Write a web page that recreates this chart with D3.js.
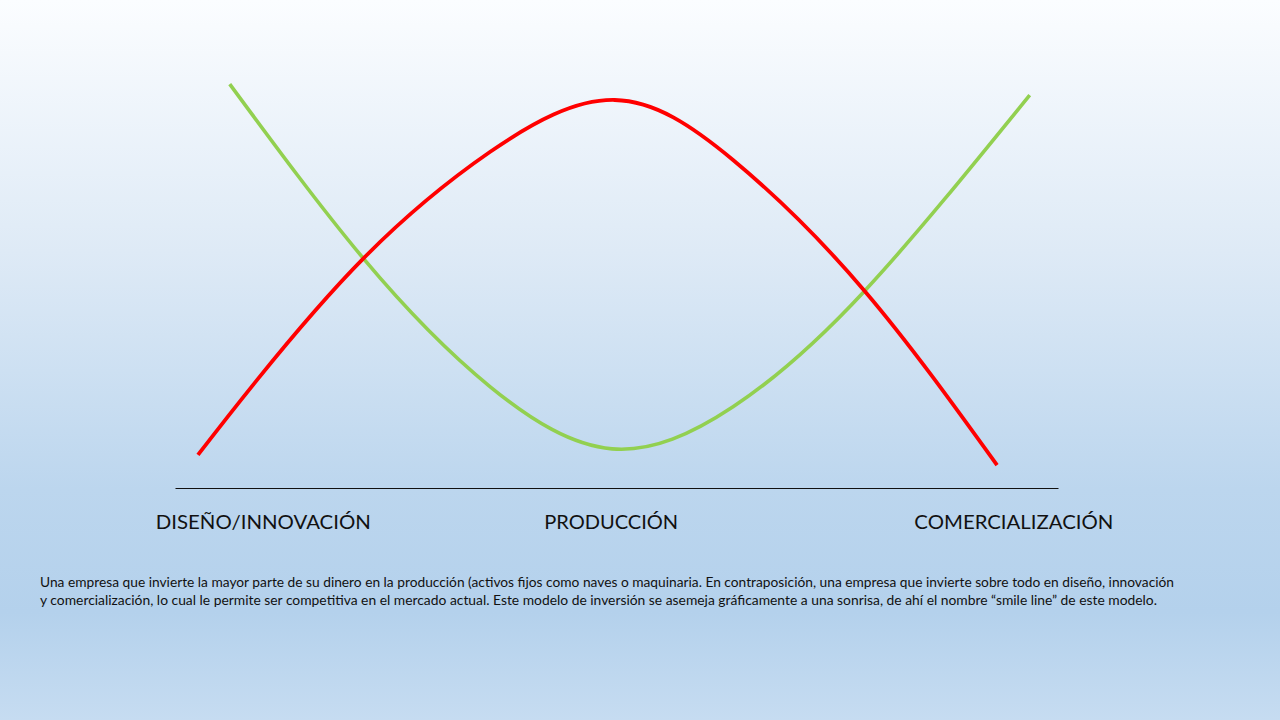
<!DOCTYPE html>
<html>
<head>
<meta charset="utf-8">
<script src="https://cdn.jsdelivr.net/npm/d3@7"></script>
<style>
  html, body { margin: 0; padding: 0; }
  body { width: 1280px; height: 720px; overflow: hidden; }
</style>
</head>
<body>
<svg id="chart" width="1280" height="720"></svg>
<script>
// ---- Data ----
const redX   = [2.6, 9.3, 21.4, 35.7, 49.8, 63.2, 78.1, 93.1];
const redY   = [8.1, 26.5, 56.4, 82.4, 95.1, 80.4, 48.3, 5.6];
const greenX = [6.2, 21.4, 35.7, 49.5, 63.2, 78.1, 96.8];
const greenY = [99.0, 56.1, 24.8, 9.6, 19.9, 48.3, 96.3];
const categories = ["DISEÑO/INNOVACIÓN", "PRODUCCIÓN", "COMERCIALIZACIÓN"];
const categoryPos = [10.0, 49.4, 95.0];
const noteLines = [
  "Una empresa que invierte la mayor parte de su dinero en la producción (activos fijos como naves o maquinaria.  En contraposición, una empresa que invierte sobre todo en diseño, innovación",
  "y comercialización, lo cual le permite ser competitiva en el mercado actual.  Este modelo de inversión se asemeja gráficamente a una sonrisa, de ahí el nombre \u201csmile line\u201d de este modelo."
];

// ---- Drawing ----
const svg = d3.select("#chart");
const defs = svg.append("defs");
const grad = defs.append("linearGradient").attr("id", "bg")
  .attr("x1", 0).attr("y1", 0).attr("x2", 0).attr("y2", 1);
grad.append("stop").attr("offset", "0%").attr("stop-color", "#fbfdff");
grad.append("stop").attr("offset", "35%").attr("stop-color", "#deeaf6");
grad.append("stop").attr("offset", "68%").attr("stop-color", "#bcd6ee");
grad.append("stop").attr("offset", "85%").attr("stop-color", "#b4d1ec");
grad.append("stop").attr("offset", "100%").attr("stop-color", "#c6dcf1");
svg.append("rect").attr("width", 1280).attr("height", 720).attr("fill", "url(#bg)");

const x = d3.scaleLinear().domain([0, 100]).range([175, 1058]);
const y = d3.scaleLinear().domain([0, 100]).range([488, 80]);

// baseline axis
const axis = d3.axisBottom(x).tickValues([]).tickSize(0).tickSizeOuter(0);
const axG = svg.append("g").attr("transform", `translate(0,${y(0)})`).call(axis);
axG.select(".domain").attr("stroke", "#111").attr("stroke-width", 1.2);

const line = d3.line().x(d => x(d[0])).y(d => y(d[1])).curve(d3.curveNatural);

const redData = redX.map((v, i) => [v, redY[i]]);
const greenData = greenX.map((v, i) => [v, greenY[i]]);

svg.append("path").datum(greenData).attr("d", line)
  .attr("fill", "none").attr("stroke", "#92d050").attr("stroke-width", 3.6);
svg.append("path").datum(redData).attr("d", line)
  .attr("fill", "none").attr("stroke", "#ff0000").attr("stroke-width", 3.8);

// category labels
const labelWidths = [215, 134, 199];
svg.selectAll("text.cat").data(categories).enter().append("text")
  .attr("class", "cat")
  .attr("x", (d, i) => x(categoryPos[i]))
  .attr("y", 529)
  .attr("text-anchor", "middle")
  .attr("font-family", "Lato, 'Open Sans', sans-serif")
  .attr("font-size", 20)
  .attr("fill", "#111")
  .attr("textLength", (d, i) => labelWidths[i])
  .attr("lengthAdjust", "spacingAndGlyphs")
  .text(d => d);

// note text
const noteWidths = [1134, 1117];
svg.selectAll("text.note").data(noteLines).enter().append("text")
  .attr("class", "note")
  .attr("x", 40)
  .attr("y", (d, i) => 587 + i * 18)
  .attr("font-family", "Lato, 'Open Sans', sans-serif")
  .attr("font-size", 13)
  .attr("fill", "#111")
  .attr("textLength", (d, i) => noteWidths[i])
  .attr("lengthAdjust", "spacingAndGlyphs")
  .text(d => d);
</script>
</body>
</html>
